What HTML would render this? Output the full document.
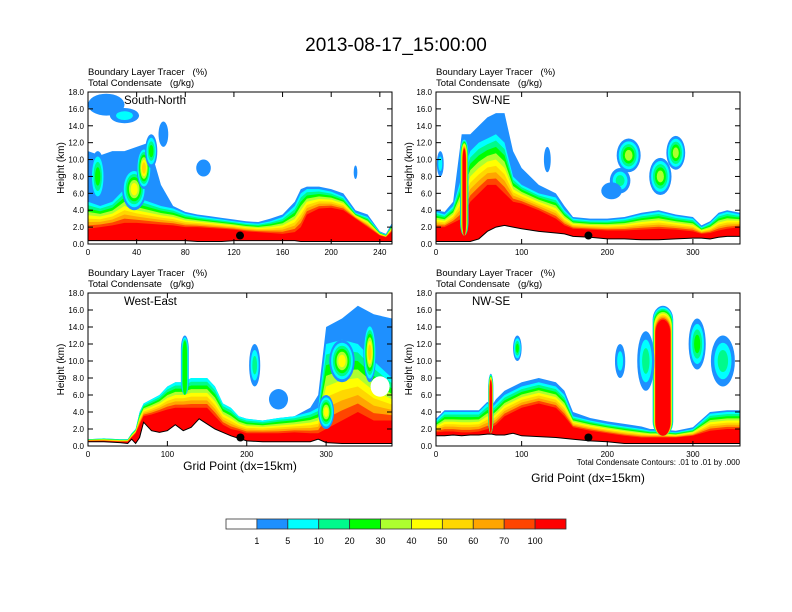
<!DOCTYPE html>
<html><head><meta charset="utf-8"><style>
body{margin:0;background:#fff;}
svg{display:block;font-family:"Liberation Sans",sans-serif;}
text{white-space:pre;}
</style></head><body>
<svg id="fig" width="792" height="612" viewBox="0 0 792 612" xmlns="http://www.w3.org/2000/svg">
<text x="396" y="51" text-anchor="middle" font-size="19">2013-08-17_15:00:00</text>
<g id="panels"></g>
<g id="colorbar"></g>
</svg>
<script>
const levelColors = ["#ffffff","#1e90ff","#00ffff","#00fa8c","#00ff00","#adff2f","#ffff00","#ffd700","#ffa500","#ff4500","#ff0000"];
const levelLabels = ["1","5","10","20","30","40","50","60","70","100"];

// South-North
const snGx = [0,10,20,30,40,50,60,70,80,90,100,110,120,130,140,150,160,170,175,180,190,200,210,220,230,240,245,250];
const snTerrain = [0.4,0.4,0.4,0.4,0.4,0.4,0.4,0.4,0.4,0.3,0.3,0.3,0.4,0.4,0.4,0.4,0.4,0.4,0.3,0.3,0.3,0.3,0.3,0.3,0.3,0.3,0.3,0.3];
const snEnv = [11,10.5,11,11,11.5,12,7,4.5,3.8,3.5,3.3,3.1,2.9,2.7,2.6,3,3.5,5,6.5,6.8,6.8,6.5,6,4,3.5,1.5,1.2,2.5];
const snTop = [5,4.5,5,6.5,5.5,5,4.5,4.2,3.6,3.3,3.1,2.9,2.7,2.5,2.4,2.7,3.2,4.5,6,6.5,6.5,6.2,5.6,3.7,3.2,1.4,1.1,2.3];
const snCore = [1.8,2,2.2,2.5,2.5,2.4,2.3,2.2,2,2,1.9,1.8,1.7,1.5,1.4,1.3,1.2,1.4,2,3.5,4.2,4.3,4,3,2,1,0.8,1.5];
const snBlobs = [[15,16.5,15,1.3,1],[30,15.2,12,0.9,2],[95,9,6,1,1],[62,13,4,1.5,1],[8,8,6,3,4],[38,6.5,10,2.5,6],[46,9,6,2.5,7],[52,11,5,2,4],[220,8.5,1.5,0.8,1]];
const snPlumes = [];

// SW-NE
const swGx = [0,10,20,30,40,50,60,70,80,90,100,120,140,150,160,180,200,220,240,260,280,300,310,320,330,340,355];
const swTerrain = [0.3,0.3,0.3,0.3,0.3,0.6,1.5,2.0,2.2,2.0,1.8,1.5,1.3,1.2,0.9,0.8,0.6,0.6,0.5,0.5,0.6,0.7,0.7,0.6,0.8,0.9,0.9];
const swEnv = [4,3.8,5,13,13,14,15,15.5,15.5,11,9,7,6,4.5,3.2,3,3,3.2,3.7,4,3.5,3.2,2.2,2.7,3.7,4,3.7];
const swTop = [3.8,3.5,4.5,8,11,12,12.5,13,12,8,7,6,5.5,4,3,2.8,2.8,3,3.5,3.8,3.3,3,2,2.5,3.5,3.8,3.5];
const swCore = [2,2,2.5,3,5,6,7,7,6,5,4.8,4,3,2.2,1.8,1.7,1.6,1.6,1.7,1.8,1.7,1.5,1.2,1.3,1.6,1.8,2];
const swBlobs = [[225,10.5,14,2,5],[262,8,13,2.2,5],[280,10.8,11,2,5],[215,7.5,12,1.5,3],[205,6.3,12,1,1],[5,9.5,4,1.5,2],[130,10,4,1.5,1]];
const swPlumes = [[33,5,1,12.5,10,0.7]];

// West-East
const weGx = [0,20,40,50,55,60,65,70,80,90,100,110,120,130,140,150,160,170,180,190,200,220,240,260,280,290,300,320,340,360,383];
const weTerrain = [0.5,0.5,0.4,0.3,0.8,0.3,1.0,2.8,1.8,1.6,1.8,2.5,1.8,2.2,3.2,2.6,2,1.6,1.2,0.9,0.6,0.5,0.5,0.5,0.5,0.8,0.4,0.3,0.3,0.3,0.3];
const weEnv = [0.8,0.9,0.8,0.8,1.5,2,4,5,5.5,6,7,7.5,7.5,8,8,8,7,5,4.5,3.5,3.2,3,3.3,3.5,4.5,6,14,15,16.5,15.5,15];
const weTop = [0.8,0.9,0.8,0.8,1.5,2,4,5,5.5,6,7,7.5,7.5,8,8,8,7,5,4.5,3.5,3.2,3,3.3,3.5,4,4.5,12,12.5,12,10,8];
const weCore = [0.6,0.6,0.5,0.5,1,1.5,2.5,3.5,3.7,4,4.3,4.5,4.5,4.5,4.5,4.5,3.5,2.5,2,1.8,1.5,1.5,1.5,1.6,1.5,1.5,2,3,4,3,3];
const weBlobs = [[210,9.5,7,2.5,3],[240,5.5,12,1.2,1],[320,10,16,2.5,6],[300,4,10,2,6],[355,11,8,3.5,7],[368,7,12,1.2,0]];
const wePlumes = [[122,5,6,13,4,0.6]];

// NW-SE
const nwGx = [0,10,20,30,40,50,60,65,70,80,90,100,120,140,150,160,180,200,220,240,250,260,270,280,300,320,340,355];
const nwTerrain = [1.2,1.2,1.3,1.2,1.3,1.3,1.4,1.4,1.3,1.3,1.5,1.2,1.1,1.0,0.9,0.8,0.6,0.5,0.3,0.3,0.3,0.3,0.3,0.3,0.3,0.3,0.3,0.3];
const nwEnv = [3.2,4.2,4.2,4.2,4.2,4.2,5.2,4.7,5.5,6.5,7,7.5,8,7.5,6.5,4,3.3,2.9,2.6,2.3,2,2,1.9,1.8,2.2,4,4.2,4.2];
const nwTop = [3,4,4,4,4,4,5,4.5,5,6,6.5,7,7.5,7,6,3.5,3,2.6,2.3,2,1.8,1.8,1.7,1.6,2,3.8,4,4];
const nwCore = [1.6,1.7,1.7,1.6,1.6,1.7,2,2.2,2.5,3.5,4,4.5,5,4.5,3.5,2.2,1.8,1.5,1.2,1,1,1,1,1,1.2,1.8,2,2];
const nwBlobs = [[95,11.5,5,1.5,4],[245,10,10,3.5,3],[305,12,10,3,4],[335,10,14,3,3],[215,10,6,2,2]];
const nwPlumes = [[64,3,1.5,8.5,10,0.6],[265,12,1.2,16.5,10,0.3]];

const panels = [
 {name:"south-north",title:"South-North",x:88,y:92,w:304,h:152,xmax:250,xticks:[0,40,80,120,160,200,240],gx:snGx,ter:snTerrain,env:snEnv,top:snTop,core:snCore,blobs:snBlobs,plumes:snPlumes,dot:[125,1.0]},
 {name:"sw-ne",title:"SW-NE",x:436,y:92,w:304,h:152,xmax:355,xticks:[0,100,200,300],gx:swGx,ter:swTerrain,env:swEnv,top:swTop,core:swCore,blobs:swBlobs,plumes:swPlumes,dot:[178,1.0]},
 {name:"west-east",title:"West-East",x:88,y:293,w:304,h:153,xmax:383,xticks:[0,100,200,300],gx:weGx,ter:weTerrain,env:weEnv,top:weTop,core:weCore,blobs:weBlobs,plumes:wePlumes,dot:[192,1.0]},
 {name:"nw-se",title:"NW-SE",x:436,y:293,w:304,h:153,xmax:355,xticks:[0,100,200,300],gx:nwGx,ter:nwTerrain,env:nwEnv,top:nwTop,core:nwCore,blobs:nwBlobs,plumes:nwPlumes,dot:[178,1.0]}
];
const NS="http://www.w3.org/2000/svg";
function mk(tag,attrs,parent){const e=document.createElementNS(NS,tag);for(const k in attrs)e.setAttribute(k,attrs[k]);parent.appendChild(e);return e;}
const root=document.getElementById("panels");
panels.forEach((p,pi)=>{
 const g=mk("g",{},root);
 
 
 const sx=v=>p.x+v/p.xmax*p.w, sy=v=>p.y+p.h-v/18*p.h;
 const cid="clip"+pi;
 const cp=mk("clipPath",{id:cid},g); mk("rect",{x:p.x,y:p.y,width:p.w,height:p.h},cp);
 const plot=mk("g",{"clip-path":"url(#"+cid+")"},g);
 for(let k=1;k<=10;k++){
  let pts=[];
  for(let i=0;i<p.gx.length;i++){
   let h = k===1 ? p.env[i] : p.core[i]+(p.top[i]-p.core[i])*(10-k)/8;
   h=Math.max(p.ter[i],h);
   pts.push(sx(p.gx[i])+","+sy(h));}
  for(let i=p.gx.length-1;i>=0;i--)pts.push(sx(p.gx[i])+","+sy(0));
  const poly=mk("polygon",{points:pts.join(" "),fill:levelColors[k]},plot);
  
  
 }
 p.plumes.forEach(pl=>{
  const [cx,hw,b,t,mx,shr]=pl;
  for(let k=1;k<=mx;k++){const f=(k-1)/mx;const w=hw*(1-shr*f);const tt=t-(t-b)*0.12*f;
   const W=sx(cx+w)-sx(cx-w),H=sy(b)-sy(tt);
   const r=mk("rect",{x:sx(cx-w),y:sy(tt),width:W,height:H,rx:W/2,ry:Math.min(H/3,14),fill:levelColors[k]},plot);
   
   }
 });
 p.blobs.forEach(bl=>{
  const [cx,cy,rx,ry,mx]=bl;
  if(mx===0){const e=mk("ellipse",{cx:sx(cx),cy:sy(cy),rx:sx(rx)-sx(0),ry:sy(0)-sy(ry),fill:"#fff"},plot);return;}
  for(let k=1;k<=mx;k++){const s=1-(k-1)/mx*0.85;
   const e=mk("ellipse",{cx:sx(cx),cy:sy(cy),rx:(sx(rx)-sx(0))*s,ry:(sy(0)-sy(ry))*s,fill:levelColors[k]},plot);
   
   }
 });
 let tp=[];for(let i=0;i<p.gx.length;i++)tp.push(sx(p.gx[i])+","+sy(p.ter[i]));
 const tfill=mk("polygon",{points:tp.join(" ")+" "+sx(p.xmax)+","+sy(0)+" "+sx(0)+","+sy(0),fill:"#fff"},plot);
 
 
 const tl=mk("polyline",{points:tp.join(" "),fill:"none",stroke:"#000","stroke-width":1},plot);
 
 
 const dot=mk("circle",{cx:sx(p.dot[0]),cy:sy(p.dot[1]),r:4,fill:"#000"},plot);
 
 
 mk("rect",{x:p.x,y:p.y,width:p.w,height:p.h,fill:"none",stroke:"#000","stroke-width":1},g);
 for(let v=0;v<=18;v+=2){const y=sy(v);
  mk("line",{x1:p.x,x2:p.x+5,y1:y,y2:y,stroke:"#000"},g);mk("line",{x1:p.x+p.w,x2:p.x+p.w-5,y1:y,y2:y,stroke:"#000"},g);
  const t=mk("text",{x:p.x-4,y:y+3,"text-anchor":"end","font-size":8},g);t.textContent=v.toFixed(1);
  }
 p.xticks.forEach(v=>{const x=sx(v);
  mk("line",{x1:x,x2:x,y1:p.y+p.h,y2:p.y+p.h-5,stroke:"#000"},g);mk("line",{x1:x,x2:x,y1:p.y,y2:p.y+5,stroke:"#000"},g);
  const t=mk("text",{x:x,y:p.y+p.h+11,"text-anchor":"middle","font-size":8},g);t.textContent=v;
  });
 const yt=mk("text",{x:0,y:0,"font-size":10,"text-anchor":"middle",transform:`translate(${p.x-24},${p.y+p.h/2}) rotate(-90)`},g);yt.textContent="Height (km)";
 
 const h1=mk("text",{x:p.x,y:p.y-17,"font-size":9.5},g);h1.textContent="Boundary Layer Tracer   (%)";
 
 const h2=mk("text",{x:p.x,y:p.y-6,"font-size":9.5},g);h2.textContent="Total Condensate   (g/kg)";
 
 const tt=mk("text",{x:p.x+36,y:p.y+12,"font-size":11.5},g);tt.textContent=p.title;
 
});
const xt1=mk("text",{x:240,y:470,"text-anchor":"middle","font-size":12},root);xt1.textContent="Grid Point (dx=15km)";

const xt2=mk("text",{x:588,y:482,"text-anchor":"middle","font-size":12},root);xt2.textContent="Grid Point (dx=15km)";

const cn=mk("text",{x:740,y:465,"text-anchor":"end","font-size":8},root);cn.textContent="Total Condensate Contours: .01 to .01 by .000";

const cb=document.getElementById("colorbar");
const bw=340/levelColors.length;
levelColors.forEach((c,i)=>{const r=mk("rect",{x:226+i*bw,y:519,width:bw,height:10,fill:c,stroke:"#333","stroke-width":0.8},cb);
 });
levelLabels.forEach((l,i)=>{const t=mk("text",{x:226+(i+1)*bw,y:544,"text-anchor":"middle","font-size":9},cb);t.textContent=l;
 });
</script>
</body></html>
